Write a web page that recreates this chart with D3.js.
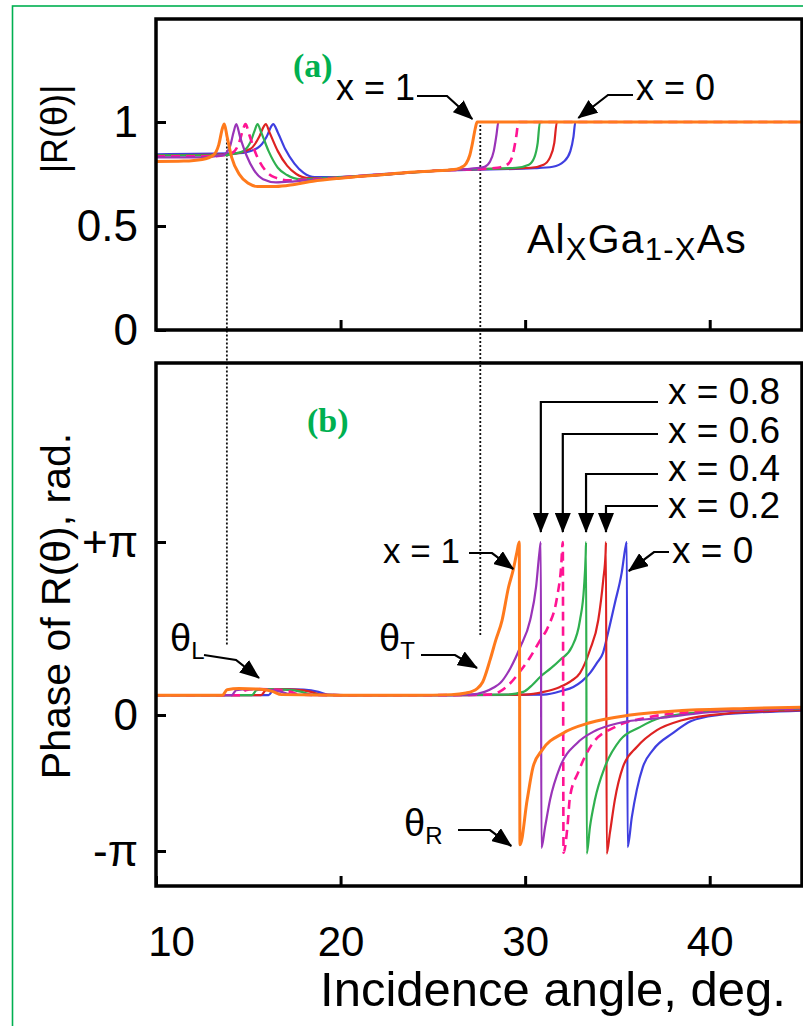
<!DOCTYPE html>
<html>
<head>
<meta charset="utf-8">
<script src="https://cdn.jsdelivr.net/npm/d3@7"></script>
<style>
  html, body { margin: 0; padding: 0; background: #fff; }
  svg { display: block; }
</style>
</head>
<body>
<svg id="chart" width="803" height="1026"></svg>
<script>
// Reflection coefficient of AlxGa1-xAs: magnitude (a) and phase (b) vs incidence angle.
const compositions = ["x = 0", "x = 0.2", "x = 0.4", "x = 0.6", "x = 0.8", "x = 1"];
const seriesColors = ["#3f3fe0", "#dd2222", "#2fb04f", "#ff1493", "#9a34b8", "#ff7a1c"];

const xTicks = [10, 20, 30, 40];
const magTicks = [0, 0.5, 1];
const magTickLabels = ["0", "0.5", "1"];
const phaseTicks = [-Math.PI, 0, Math.PI];
const phaseTickLabels = ["-π", "0", "+π"];

// |R(θ)|, pairs of [angle in deg, magnitude]
const magX0 = [[10,0.845],[14.5,0.85],[15.5,0.875],[16.0,0.93],[16.25,0.98],[16.35,0.99],[16.6,0.95],[17.0,0.87],[17.5,0.8],[18.0,0.755],[18.6,0.735],[19.5,0.735],[22,0.748],[26,0.768],[30.5,0.778],[31.5,0.785],[32.1,0.81],[32.45,0.86],[32.62,0.93],[32.72,1.0],[45,1.0]];
const magX02 = [[10,0.84],[14,0.845],[15.1,0.87],[15.6,0.93],[15.85,0.98],[15.95,0.99],[16.15,0.95],[16.6,0.86],[17.1,0.79],[17.6,0.75],[18.3,0.73],[19.5,0.73],[22,0.745],[26,0.77],[30.3,0.78],[31.0,0.795],[31.35,0.83],[31.58,0.9],[31.72,1.0],[45,1.0]];
const magX04 = [[10,0.84],[13.5,0.84],[14.6,0.855],[15.1,0.9],[15.35,0.96],[15.5,0.99],[15.7,0.95],[16.1,0.86],[16.6,0.78],[17.1,0.745],[17.8,0.725],[19,0.73],[22,0.745],[26,0.77],[29.5,0.78],[30.2,0.795],[30.5,0.83],[30.68,0.9],[30.8,1.0],[45,1.0]];
const magX06 = [[10,0.835],[13,0.835],[14.1,0.85],[14.5,0.9],[14.7,0.96],[14.85,0.99],[15.05,0.94],[15.4,0.85],[15.9,0.77],[16.4,0.735],[17.2,0.72],[18.5,0.725],[21,0.74],[25,0.765],[28.5,0.78],[29.1,0.8],[29.35,0.85],[29.5,0.92],[29.65,1.0],[45,1.0]];
const magX08 = [[10,0.83],[12.5,0.83],[13.6,0.84],[14.0,0.88],[14.2,0.95],[14.35,0.99],[14.55,0.93],[14.9,0.84],[15.3,0.77],[15.8,0.725],[16.5,0.71],[17.5,0.715],[19,0.725],[22,0.745],[25,0.765],[27,0.775],[27.8,0.785],[28.1,0.81],[28.3,0.86],[28.45,0.94],[28.55,1.0],[45,1.0]];
const magX1 = [[10,0.81],[11.5,0.812],[12.5,0.82],[13.1,0.84],[13.4,0.89],[13.6,0.97],[13.7,0.99],[13.85,0.93],[14.1,0.83],[14.5,0.75],[15.0,0.705],[15.5,0.69],[16.5,0.69],[17.5,0.70],[18.5,0.715],[20,0.73],[22,0.745],[24,0.76],[26,0.77],[26.5,0.78],[26.8,0.80],[27.0,0.84],[27.15,0.9],[27.3,0.97],[27.4,1.0],[45,1.0]];

// Phase of R(θ) in rad, pairs of [angle in deg, phase]
const phaseX0 = [[10,0.36],[16.1,0.36],[16.35,0.45],[17,0.47],[18,0.46],[18.8,0.42],[19.3,0.37],[21,0.36],[26,0.36],[31.0,0.37],[32.0,0.44],[32.61,0.51],[33.1,0.62],[33.51,0.76],[33.9,0.95],[34.22,1.13],[34.49,1.49],[34.86,2.03],[35.23,2.58],[35.44,3.05],[35.51,3.14],[35.55,-3.05],[35.78,-2.36],[36.05,-1.73],[36.38,-1.2],[36.92,-0.81],[38,-0.42],[39.0,-0.14],[40.5,0],[42.7,0.05],[45,0.08]];
const phaseX02 = [[10,0.36],[15.7,0.36],[15.95,0.45],[16.5,0.47],[17.5,0.46],[18.4,0.42],[18.9,0.37],[21,0.36],[26,0.36],[30.0,0.37],[31.0,0.42],[31.89,0.51],[32.5,0.62],[32.97,0.76],[33.51,1.18],[33.96,1.72],[34.23,2.45],[34.36,2.95],[34.38,3.14],[34.42,-3.2],[34.59,-2.73],[34.86,-1.96],[35.30,-1.2],[36.05,-0.74],[37.14,-0.35],[38.5,-0.12],[41,0.03],[45,0.09]];
const phaseX04 = [[10,0.36],[15.2,0.36],[15.45,0.45],[16,0.47],[17,0.46],[17.9,0.42],[18.4,0.37],[20,0.36],[25,0.36],[29.0,0.37],[29.9,0.42],[30.4,0.55],[30.81,0.69],[31.4,0.85],[31.89,1.0],[32.52,1.23],[32.97,1.72],[33.19,2.32],[33.28,2.9],[33.3,3.14],[33.34,-3.2],[33.51,-2.59],[33.78,-1.96],[34.32,-1.2],[35.14,-0.58],[36.22,-0.28],[37.3,-0.07],[40,0.06],[45,0.11]];
const phaseX06 = [[10,0.36],[14.6,0.36],[14.85,0.45],[15.5,0.47],[16.5,0.46],[17.3,0.42],[17.8,0.37],[20,0.36],[25,0.36],[28.0,0.37],[28.6,0.42],[29.08,0.54],[29.7,0.78],[30.27,1.05],[30.8,1.35],[31.24,1.6],[31.73,2.14],[31.95,2.69],[32.04,3.14],[32.08,-3.18],[32.29,-2.59],[32.43,-1.89],[32.88,-1.32],[33.6,-0.69],[34.86,-0.28],[36.49,-0.07],[39,0.05],[45,0.11]];
const phaseX08 = [[10,0.36],[14.1,0.36],[14.35,0.45],[15,0.47],[16,0.46],[16.8,0.42],[17.3,0.37],[20,0.36],[25,0.36],[27.0,0.37],[27.8,0.42],[28.3,0.5],[28.65,0.58],[29.2,0.85],[29.73,1.23],[30.27,1.72],[30.59,2.32],[30.77,2.94],[30.85,3.14],[30.88,-3.07],[31.08,-2.59],[31.35,-1.96],[31.89,-1.2],[32.81,-0.65],[33.68,-0.39],[35.14,-0.18],[37.3,-0.07],[40,0.05],[45,0.12]];
const phaseX1 = [[10,0.36],[13.6,0.36],[13.85,0.46],[14.5,0.48],[15.5,0.47],[16.3,0.43],[16.8,0.37],[20,0.36],[24,0.36],[26.0,0.37],[26.8,0.40],[27.4,0.48],[27.7,0.6],[28.1,1.0],[28.4,1.35],[28.75,1.72],[29.1,2.32],[29.35,2.63],[29.55,2.95],[29.68,3.14],[29.72,-3.0],[30.11,-1.96],[30.43,-1.2],[30.92,-0.81],[32.05,-0.42],[33.5,-0.18],[35.7,0],[38.5,0.08],[42,0.12],[45,0.14]];

// Characteristic angles marked with dotted guides (θL and θT for x = 1)
const guideAngles = [13.84, 27.57];
// Phase-jump angles (θR) for x = 0.8, 0.6, 0.4, 0.2 and x = 1, x = 0
const jumpAngles = [30.85, 32.04, 33.3, 34.38];
const jumpX1 = 29.68, jumpX0 = 35.51;
const critX1 = 27.3, critX0 = 32.72;

const magSeries = [magX0, magX02, magX04, magX06, magX08, magX1];
const phaseSeries = [phaseX0, phaseX02, phaseX04, phaseX06, phaseX08, phaseX1];

const svg = d3.select("#chart");
const FONT = "'Liberation Sans', Arial, sans-serif";
const GREEN = "#00b050";

// layout
const left = 156, right = 802;
const topA = 19, botA = 330;
const topB = 363, botB = 886;

const x = d3.scaleLinear().domain([10, 45]).range([left, right]);
const yMag = d3.scaleLinear().domain([0, 1.5]).range([botA, topA - 1]);
const yPhase = d3.scaleLinear().domain([-Math.PI, 0, Math.PI]).range([851, 715, 542]);

// outer border
svg.append("rect").attr("x", 12.5).attr("y", 6).attr("width", 820).attr("height", 1040)
  .attr("fill", "none").attr("stroke", GREEN).attr("stroke-width", 1.6);

const defs = svg.append("defs");
defs.append("clipPath").attr("id", "clipA").append("rect")
  .attr("x", left).attr("y", topA).attr("width", right - left).attr("height", botA - topA);
defs.append("clipPath").attr("id", "clipB").append("rect")
  .attr("x", left).attr("y", topB).attr("width", right - left).attr("height", botB - topB);
defs.append("marker").attr("id", "arrow").attr("viewBox", "0 0 20 16")
  .attr("refX", 19).attr("refY", 8).attr("markerWidth", 20).attr("markerHeight", 16)
  .attr("markerUnits", "userSpaceOnUse").attr("orient", "auto")
  .append("path").attr("d", "M0,0 L20,8 L0,16 Z").attr("fill", "#000");

// dotted guides across both panels
guideAngles.forEach((a, i) => {
  svg.append("line")
    .attr("x1", x(a)).attr("x2", x(a))
    .attr("y1", i === 0 ? yMag(0.94) : yMag(0.985))
    .attr("y2", i === 0 ? yPhase(1.27) : yPhase(1.42))
    .attr("stroke", "#111").attr("stroke-width", 1.8).attr("stroke-dasharray", "2,2");
});

// curves
const lineMag = d3.line().x(d => x(d[0])).y(d => yMag(d[1])).curve(d3.curveMonotoneX);
const linePhase = d3.line().x(d => x(d[0])).y(d => yPhase(d[1])).curve(d3.curveMonotoneX);
const widthOf = i => (i === 5 ? 3 : i === 3 ? 2.6 : 2.2);

const gA = svg.append("g").attr("clip-path", "url(#clipA)");
magSeries.forEach((s, i) => {
  gA.append("path").attr("d", lineMag(s)).attr("fill", "none")
    .attr("stroke", seriesColors[i]).attr("stroke-width", widthOf(i))
    .attr("stroke-dasharray", i === 3 ? "9,6" : null);
});
const gB = svg.append("g").attr("clip-path", "url(#clipB)");
phaseSeries.forEach((s, i) => {
  gB.append("path").attr("d", linePhase(s)).attr("fill", "none")
    .attr("stroke", seriesColors[i]).attr("stroke-width", widthOf(i))
    .attr("stroke-dasharray", i === 3 ? "9,6" : null);
});

// frames
[[topA, botA], [topB, botB]].forEach(([t, b]) => {
  svg.append("rect").attr("x", left).attr("y", t).attr("width", right - left).attr("height", b - t)
    .attr("fill", "none").attr("stroke", "#000").attr("stroke-width", 3.5);
});

// axes
function styleAxis(g, size) {
  g.select(".domain").remove();
  g.selectAll(".tick line").attr("stroke", "#000").attr("stroke-width", 3);
  g.selectAll(".tick text").attr("fill", "#000").attr("font-family", FONT).attr("font-size", size);
}
svg.append("g").attr("transform", `translate(${left},0)`)
  .call(d3.axisLeft(yMag).tickValues(magTicks).tickFormat((d, i) => magTickLabels[i]).tickSize(-10).tickPadding(18))
  .call(g => styleAxis(g, 44));
svg.append("g").attr("transform", `translate(${left},0)`)
  .call(d3.axisLeft(yPhase).tickValues(phaseTicks).tickFormat((d, i) => phaseTickLabels[i]).tickSize(-10).tickPadding(18))
  .call(g => styleAxis(g, 44));
svg.append("g").attr("transform", `translate(0,${botA})`)
  .call(d3.axisBottom(x).tickValues(xTicks.slice(1)).tickFormat("").tickSize(-10))
  .call(g => styleAxis(g, 42));
svg.append("g").attr("transform", `translate(0,${botB})`)
  .call(d3.axisBottom(x).tickValues(xTicks).tickSize(-10).tickPadding(40))
  .call(g => styleAxis(g, 42))
  .call(g => g.selectAll(".tick text").filter(d => d === 10).attr("dx", 15));

// axis titles
svg.append("text").attr("transform", "translate(54,129) rotate(-90)")
  .attr("text-anchor", "middle").attr("dy", "0.35em")
  .attr("font-family", FONT).attr("font-size", 36).text("|R(θ)|");
svg.append("text").attr("transform", "translate(56,606) rotate(-90)")
  .attr("text-anchor", "middle").attr("dy", "0.35em")
  .attr("font-family", FONT).attr("font-size", 41).text("Phase of R(θ), rad.");
svg.append("text").attr("x", 553).attr("y", 1006).attr("text-anchor", "middle")
  .attr("font-family", FONT).attr("font-size", 49).text("Incidence angle, deg.");

// annotations
function label(xp, yp, str, size) {
  return svg.append("text").attr("x", xp).attr("y", yp)
    .attr("font-family", FONT).attr("font-size", size || 36).attr("fill", "#000").text(str);
}
function arrow(d) {
  svg.append("path").attr("d", d).attr("fill", "none").attr("stroke", "#000")
    .attr("stroke-width", 2.2).attr("marker-end", "url(#arrow)");
}
function subLabel(xp, yp, main, sub, size, subSize) {
  const t = svg.append("text").attr("x", xp).attr("y", yp)
    .attr("font-family", FONT).attr("font-size", size).attr("fill", "#000");
  t.append("tspan").text(main);
  t.append("tspan").attr("font-size", subSize).attr("dy", size * 0.22).text(sub);
  return t;
}

// panel (a)
svg.append("text").attr("x", 293).attr("y", 77).attr("font-family", "'Liberation Serif', 'Times New Roman', serif")
  .attr("font-weight", "bold").attr("font-size", 34).attr("fill", GREEN).text("(a)");
label(336, 100, "x = 1");
arrow(`M417,96 H447 L${x(critX1) - 3},${yMag(1) - 3}`);
label(636, 100, "x = 0");
arrow(`M633,95 H608 L${x(critX0) + 3},${yMag(1) - 4}`);

const alloy = svg.append("text").attr("x", 527).attr("y", 253)
  .attr("font-family", FONT).attr("font-size", 41).attr("letter-spacing", 1.2).attr("fill", "#000");
alloy.append("tspan").text("Al");
alloy.append("tspan").attr("font-size", 31).attr("dy", 7).text("X");
alloy.append("tspan").attr("dy", -7).text("Ga");
alloy.append("tspan").attr("font-size", 31).attr("dy", 7).text("1-X");
alloy.append("tspan").attr("dy", -7).text("As");

// panel (b)
svg.append("text").attr("x", 307).attr("y", 432).attr("font-family", "'Liberation Serif', 'Times New Roman', serif")
  .attr("font-weight", "bold").attr("font-size", 34).attr("fill", GREEN).text("(b)");

const jumpLabels = compositions.slice(1, 5).reverse();
const jumpRows = [402, 434, 474, 506];
const jumpText = [404, 443, 481, 518];
jumpAngles.forEach((a, i) => {
  arrow(`M658,${jumpRows[i]} H${x(a)} V532`);
  label(668, jumpText[i], jumpLabels[i], 37);
});

label(383, 563, "x = 1", 35);
arrow(`M469,553 H492 L${x(jumpX1) - 6},569`);
label(672, 563, "x = 0", 37);
arrow(`M669,552 H654 L${x(jumpX0) + 2},571`);

subLabel(379, 651, "θ", "T", 38, 24);
arrow("M421,655 H455 L477,668");
subLabel(170, 651, "θ", "L", 38, 24);
arrow("M204,655 L236,660 L259,678");
subLabel(404, 836, "θ", "R", 38, 24);
arrow(`M458,830 H490 L${x(jumpX1) - 8},846`);
</script>
</body>
</html>
